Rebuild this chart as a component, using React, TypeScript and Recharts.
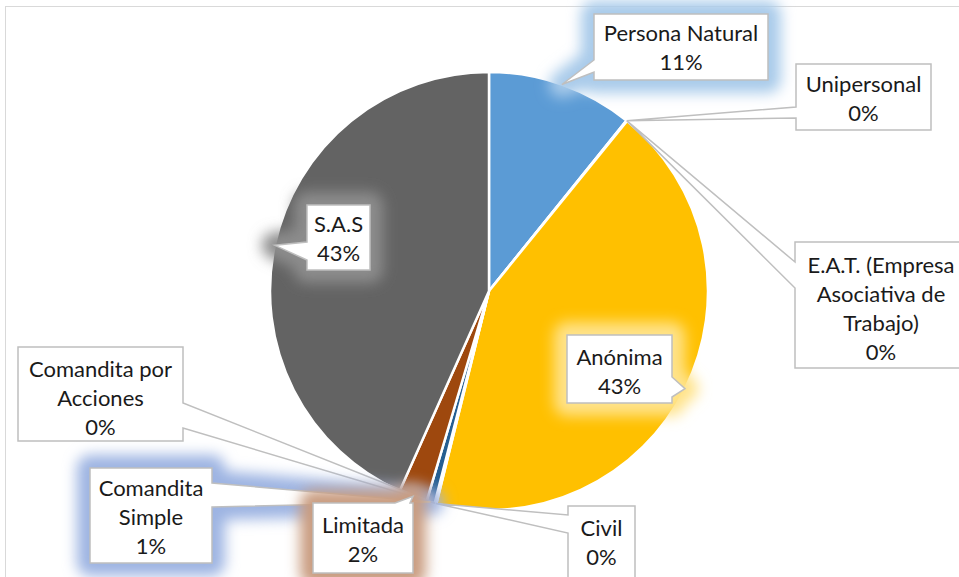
import React from "react";
import { PieChart, Pie, Cell } from "recharts";

const categories = [
  "Persona Natural",
  "Unipersonal",
  "E.A.T. (Empresa Asociativa de Trabajo)",
  "Anónima",
  "Civil",
  "Comandita por Acciones",
  "Comandita Simple",
  "Limitada",
  "S.A.S",
];
const shares = [10.8, 0.03, 0.03, 43.0, 0.1, 0.03, 0.6, 2.1, 43.31];
const sliceColors = [
  "#5B9BD5",
  "#ED7D31",
  "#A5A5A5",
  "#FFC000",
  "#4472C4",
  "#70AD47",
  "#255E91",
  "#9E480E",
  "#636363",
];

// layout of the callout boxes (positions only, no data)
type Callout = {
  x: number; y: number; w: number; h: number;
  side: "left" | "right" | "top" | "bottom";
  b1: number; b2: number;
  lines: string[];
  dy: number;
  glow?: string;
};
const calloutLayout: Callout[] = [
  { x: 594, y: 14, w: 174, h: 66, side: "left", b1: 60, b2: 72, lines: ["Persona Natural"], dy: 0, glow: "#A9CBEA" },
  { x: 796, y: 64, w: 135, h: 66, side: "left", b1: 107, b2: 118, lines: ["Unipersonal"], dy: 1 },
  { x: 795, y: 242, w: 172, h: 126, side: "left", b1: 262, b2: 288, lines: ["E.A.T. (Empresa", "Asociativa de", "Trabajo)"], dy: 3 },
  { x: 567, y: 335, w: 105, h: 68, side: "right", b1: 377, b2: 397, lines: ["Anónima"], dy: 2, glow: "#FFE38A" },
  { x: 568, y: 506, w: 67, h: 72, side: "left", b1: 515, b2: 533, lines: ["Civil"], dy: 0 },
  { x: 18, y: 347, w: 165, h: 94, side: "right", b1: 403, b2: 428, lines: ["Comandita por", "Acciones"], dy: 3 },
  { x: 90, y: 468, w: 122, h: 95, side: "right", b1: 483, b2: 507, lines: ["Comandita", "Simple"], dy: 1, glow: "#9DB4E2" },
  { x: 313, y: 503, w: 100, h: 70, side: "top", b1: 395, b2: 410, lines: ["Limitada"], dy: 1, glow: "#C99C80" },
  { x: 307, y: 205, w: 63, h: 65, side: "left", b1: 242, b2: 260, lines: ["S.A.S"], dy: 0, glow: "#8C8C8C" },
];

const data = categories.map((name, i) => ({ name, value: shares[i] }));

const RAD = Math.PI / 180;
const FONT = "Lato, 'Open Sans', sans-serif";

function calloutPath(c: Callout, tx: number, ty: number) {
  const x0 = c.x, y0 = c.y, x1 = c.x + c.w, y1 = c.y + c.h;
  const pts: number[][] = [[x0, y0]];
  if (c.side === "top") pts.push([c.b1, y0], [tx, ty], [c.b2, y0]);
  pts.push([x1, y0]);
  if (c.side === "right") pts.push([x1, c.b1], [tx, ty], [x1, c.b2]);
  pts.push([x1, y1]);
  if (c.side === "bottom") pts.push([c.b2, y1], [tx, ty], [c.b1, y1]);
  pts.push([x0, y1]);
  if (c.side === "left") pts.push([x0, c.b2], [tx, ty], [x0, c.b1]);
  return "M" + pts.map((p) => p[0] + "," + p[1]).join("L") + "Z";
}

const renderLabel = (props: any) => {
  const { cx, cy, midAngle, outerRadius, percent, index } = props;
  const c = calloutLayout[index];
  if (!c) return null;
  const tx = cx + outerRadius * Math.cos(-midAngle * RAD);
  const ty = cy + outerRadius * Math.sin(-midAngle * RAD);
  const d = calloutPath(c, tx, ty);
  const lines = [...c.lines, Math.round(percent * 100) + "%"];
  const gap = 29;
  const mid = c.y + c.h / 2 + c.dy;
  const start = mid - ((lines.length - 1) * gap) / 2;
  const fid = "glow" + index;
  return (
    <g key={"lbl" + index}>
      {c.glow && (
        <>
          <defs>
            <filter id={fid} x="-50%" y="-50%" width="200%" height="200%">
              <feGaussianBlur stdDeviation="7" />
            </filter>
          </defs>
          <path d={d} fill={c.glow} stroke={c.glow} strokeWidth={26} strokeLinejoin="round" filter={`url(#${fid})`} opacity={1} />
        </>
      )}
      <path d={d} fill="#FFFFFF" stroke="#BFBFBF" strokeWidth={1.5} />
      {lines.map((t, k) => (
        <text
          key={k}
          x={c.x + c.w / 2}
          y={start + k * gap}
          textAnchor="middle"
          dominantBaseline="central"
          fontFamily={FONT}
          fontSize={22}
          fill="#1A1A1A"
        >
          {t}
        </text>
      ))}
    </g>
  );
};

export default function App() {
  return (
    <div style={{ position: "absolute", left: 0, top: 0, width: 959, height: 577, overflow: "hidden", background: "#FFFFFF" }}>
      <div
        style={{
          position: "absolute",
          left: 5,
          top: 6,
          width: 1100,
          height: 700,
          border: "1.5px solid #D9D9D9",
          boxSizing: "border-box",
        }}
      />
      <div style={{ position: "absolute", left: 0, top: 0 }}>
        <PieChart width={959} height={577} margin={{ top: 0, right: 0, bottom: 0, left: 0 }}>
          <Pie
            data={data}
            dataKey="value"
            nameKey="name"
            cx={489}
            cy={291}
            outerRadius={219}
            startAngle={90}
            endAngle={-270}
            stroke="#FFFFFF"
            strokeWidth={2.5}
            isAnimationActive={false}
            labelLine={false}
            label={renderLabel}
          >
            {data.map((d, i) => (
              <Cell key={d.name} fill={sliceColors[i]} />
            ))}
          </Pie>
        </PieChart>
      </div>
    </div>
  );
}
